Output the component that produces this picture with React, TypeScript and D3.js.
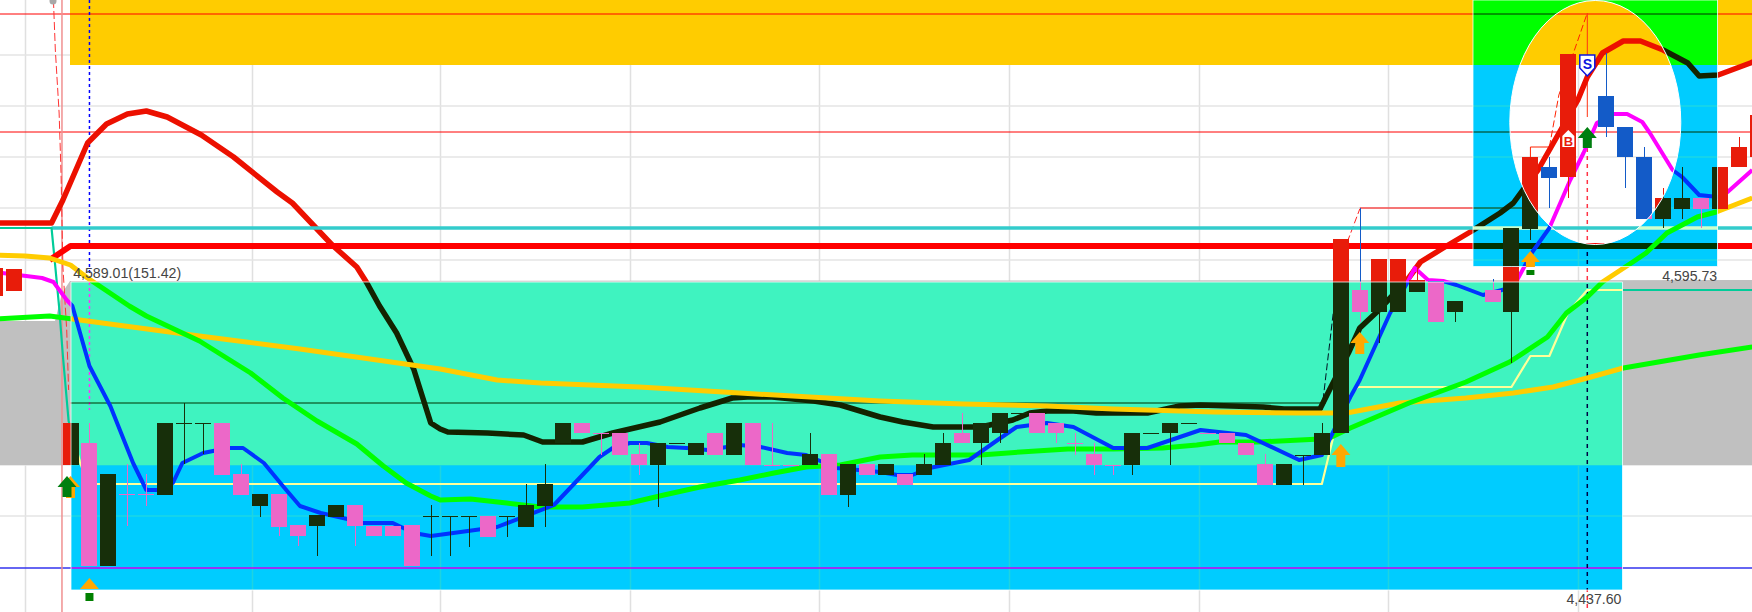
import React from "react";
import * as d3 from "d3";

// Prices (open, high, low, close), starting at bar -4. null = no candle drawn.
const FIRST_BAR = -4;
const candleRows: (number[] | null)[] = [
  [4573.6, 4587.6, 4573.6, 4587.6], [4576.1, 4587.1, 4576.1, 4587.1], null, null,
  [4489.1, 4510.1, 4489.1, 4510.1], [4500.1, 4510.1, 4438.6, 4438.6], [4438.6, 4484.6, 4438.6, 4484.6],
  [4474.6, 4489.6, 4458.6, 4474.5], [4474.6, 4484.6, 4468.6, 4474.5], [4474.1, 4510.1, 4474.1, 4510.1],
  [4510.0, 4520.1, 4489.6, 4510.1], [4510.0, 4510.1, 4494.6, 4510.1], [4510.1, 4510.1, 4484.1, 4484.1],
  [4484.6, 4489.6, 4474.1, 4474.1], [4468.6, 4474.6, 4463.1, 4474.6], [4474.6, 4474.6, 4453.6, 4458.1],
  [4459.1, 4459.1, 4448.6, 4453.6], [4458.6, 4464.1, 4443.6, 4464.1], [4463.1, 4469.1, 4463.1, 4469.1],
  [4469.1, 4469.1, 4448.6, 4458.6], [4458.6, 4458.6, 4453.6, 4453.6], [4458.6, 4458.6, 4453.6, 4453.6],
  [4459.1, 4459.1, 4438.6, 4438.6], [4463.5, 4469.1, 4443.6, 4463.6], [4463.5, 4463.6, 4443.6, 4463.6],
  [4463.5, 4463.6, 4448.1, 4463.6], [4463.6, 4463.6, 4453.1, 4453.1], [4463.5, 4463.6, 4453.1, 4463.6],
  [4458.1, 4479.6, 4458.1, 4469.1], [4468.6, 4489.6, 4458.1, 4479.6], [4500.1, 4510.1, 4500.1, 4510.1],
  [4510.1, 4510.1, 4505.1, 4505.1], [4505.1, 4505.1, 4494.1, 4505.0], [4505.1, 4505.1, 4494.1, 4494.1],
  [4494.6, 4500.1, 4484.1, 4489.1], [4489.1, 4500.1, 4468.1, 4500.1], [4500.0, 4500.1, 4500.0, 4500.1],
  [4494.1, 4500.1, 4494.1, 4500.1], [4505.1, 4505.1, 4494.1, 4494.1], [4494.1, 4510.1, 4494.1, 4510.1],
  [4510.1, 4510.1, 4489.1, 4489.1], [4489.1, 4510.1, 4489.0, 4489.0], [4489.1, 4489.1, 4489.0, 4489.0],
  [4489.1, 4505.1, 4489.1, 4494.6], [4494.6, 4494.6, 4474.1, 4474.1], [4474.1, 4489.6, 4468.1, 4489.6],
  [4489.6, 4489.6, 4484.1, 4484.1], [4484.1, 4489.6, 4484.1, 4489.6], [4484.6, 4484.6, 4479.1, 4479.1],
  [4484.1, 4494.6, 4484.1, 4489.6], [4489.1, 4505.1, 4489.1, 4500.1], [4505.1, 4515.1, 4500.1, 4500.1],
  [4500.1, 4510.1, 4489.1, 4510.1], [4505.1, 4515.1, 4500.1, 4515.1], [4515.0, 4515.1, 4515.0, 4515.1],
  [4515.1, 4515.1, 4505.1, 4505.1], [4510.1, 4510.1, 4500.1, 4505.1], [4500.1, 4505.1, 4494.1, 4500.0],
  [4494.6, 4500.1, 4484.1, 4489.1], [4489.1, 4489.1, 4484.1, 4489.0], [4489.1, 4505.1, 4484.1, 4505.1],
  [4505.0, 4505.1, 4505.0, 4505.1], [4505.1, 4510.1, 4489.1, 4510.1], [4510.0, 4510.1, 4510.0, 4510.1],
  [4505.1, 4505.1, 4505.0, 4505.0], [4505.1, 4505.1, 4500.1, 4500.1], [4500.1, 4500.1, 4494.1, 4494.1],
  [4489.6, 4494.6, 4479.1, 4479.1], [4479.1, 4489.6, 4479.1, 4489.6], [4494.0, 4494.1, 4479.1, 4494.1],
  [4494.1, 4510.1, 4494.1, 4505.1], [4505.1, 4602.1, 4505.1, 4602.1], [4576.6, 4617.6, 4560.6, 4565.6],
  [4565.6, 4592.1, 4550.1, 4592.1], [4565.6, 4592.1, 4565.6, 4592.1], [4575.6, 4587.6, 4575.6, 4581.6],
  [4581.1, 4581.1, 4560.6, 4560.6], [4565.6, 4571.1, 4560.6, 4571.1], null,
  [4576.6, 4582.1, 4570.6, 4570.6], [4565.6, 4607.6, 4540.1, 4607.6], [4607.1, 4643.1, 4601.6, 4643.1],
  [4638.1, 4643.1, 4617.6, 4632.6], [4633.1, 4694.6, 4622.6, 4694.6], null,
  [4673.6, 4695.1, 4653.1, 4658.1], [4658.1, 4658.1, 4627.6, 4643.1], [4643.1, 4648.1, 4612.1, 4612.1],
  [4612.1, 4627.6, 4607.6, 4622.6], [4617.1, 4638.1, 4612.1, 4622.6], [4622.6, 4622.6, 4607.6, 4617.1],
  [4617.1, 4638.1, 4617.1, 4638.1], [4638.1, 4653.1, 4638.1, 4648.1], [4643.1, 4664.1, 4643.1, 4664.1],
];

// Moving averages: [bar, price]
const slowAverage = [
  [-4, 4610.1], [-1, 4610.1], [-0.4, 4621.6], [0.9, 4650.1], [1.9, 4659.6], [3, 4664.6], [4, 4666.1], [5.1, 4663.1],
  [6.9, 4654.1], [8.6, 4643.1], [10.9, 4625.6], [11.7, 4620.1], [13.8, 4599.1], [15.1, 4588.1], [15.6, 4580.6],
  [16.3, 4568.6], [17.2, 4555.1], [18.1, 4537.1], [19, 4510.1], [19.5, 4507.1], [19.9, 4505.6], [22, 4505.1],
  [23.9, 4504.1], [24.9, 4500.6], [27, 4500.6], [28.6, 4505.1], [31.1, 4510.6], [33.2, 4517.6], [34.9, 4522.6],
  [35.7, 4523.1], [37, 4523.1], [39.2, 4521.1], [40.6, 4519.1], [42.7, 4513.1], [43.9, 4510.6], [45.5, 4508.1],
  [48, 4508.1], [49.7, 4511.6], [50.6, 4515.1], [51.5, 4516.1], [52.9, 4516.1], [54.1, 4515.1], [56.8, 4515.1],
  [58.5, 4518.6], [59.6, 4519.1], [62.9, 4518.1], [64, 4517.1], [65.9, 4517.1], [66.4, 4526.6], [67.4, 4545.1],
  [68, 4557.6], [68.9, 4565.6], [70.5, 4581.6], [71.2, 4590.6], [72.4, 4597.6], [74, 4606.6], [75.4, 4615.1],
  [76.1, 4620.1], [76.6, 4626.6], [77.4, 4636.6], [79.5, 4671.6], [80, 4683.1], [80.8, 4695.1], [81.9, 4701.1],
  [82.8, 4701.1], [84, 4696.6], [85.3, 4690.1], [85.9, 4683.6], [86.9, 4684.1], [88.6, 4690.1], [89.6, 4694.1],
];
const midAverage = [
  [-4, 4594.1], [-2.4, 4593.6], [-1.1, 4592.6], [0, 4589.1], [0.9, 4582.6], [3.1, 4568.6], [4, 4563.6], [6.8, 4551.1],
  [9.5, 4535.1], [11.2, 4522.6], [13, 4511.1], [15.1, 4499.6], [16.5, 4488.6], [17.7, 4480.1], [19, 4473.6],
  [19.5, 4471.6], [21.1, 4472.1], [23, 4470.1], [24.8, 4468.1], [27, 4468.1], [29.5, 4470.1], [31.3, 4474.1],
  [33.2, 4478.1], [35.3, 4481.6], [37.1, 4485.1], [38.8, 4488.1], [40.6, 4489.1], [42.7, 4493.1], [44.4, 4494.1],
  [48, 4494.1], [50.1, 4495.6], [52.6, 4497.1], [55, 4497.1], [57.6, 4497.6], [59.4, 4499.1], [60.6, 4500.6],
  [62.6, 4500.6], [63.8, 4501.1], [65.9, 4502.1], [66.4, 4502.6], [67.5, 4507.6], [70.6, 4520.1], [73.6, 4530.6],
  [75.9, 4540.6], [77.9, 4553.1], [78.9, 4565.1], [80, 4573.1], [80.8, 4580.6], [82.4, 4590.6], [83.1, 4595.1],
  [84.2, 4605.1], [85.8, 4613.1], [86.8, 4615.6], [88.7, 4622.6],
];
const longAverage = [
  [-4, 4562.1], [-1.1, 4563.6], [0.1, 4562.1], [6.8, 4553.6], [12.1, 4547.1], [19.5, 4537.1], [22.5, 4531.6],
  [24.8, 4530.1], [30, 4528.1], [35.3, 4525.1], [42.7, 4521.1], [47.1, 4519.6], [51.5, 4518.6], [55, 4517.1],
  [60.3, 4515.6], [64.8, 4515.1], [67.3, 4515.1], [70.1, 4520.1], [73.6, 4522.6], [76.1, 4525.1], [78.2, 4528.1],
  [80, 4532.6], [81.9, 4537.6], [85.9, 4544.1], [88.7, 4548.1],
];
const fastAverage = [
  [-4, 4585.6], [-3.6, 4585.1], [-1.5, 4582.6], [-0.9, 4580.6], [-0.2, 4571.6], [0.1, 4568.6], [1, 4538.6],
  [2.1, 4518.6], [3.3, 4490.1], [4, 4476.6], [4.6, 4476.6], [5.4, 4480.1], [5.9, 4490.1], [7, 4495.1], [8.3, 4497.6],
  [9.1, 4497.6], [10.2, 4490.1], [11.2, 4478.6], [12.1, 4468.6], [13.2, 4465.1], [14.6, 4462.1], [15.4, 4460.1],
  [17, 4460.1], [18.1, 4455.1], [19, 4453.6], [19.8, 4454.6], [22.5, 4458.1], [25.5, 4469.1], [27.9, 4493.1],
  [28.6, 4497.6], [29.5, 4500.1], [30.4, 4500.1], [31.5, 4498.1], [32.5, 4497.6], [33.6, 4496.6], [35.3, 4499.1],
  [36.4, 4498.1], [37.8, 4495.1], [38.8, 4494.1], [40.4, 4487.6], [42.7, 4485.6], [43.6, 4484.1], [44.4, 4484.1],
  [45.3, 4487.6], [47.4, 4491.6], [48.9, 4501.6], [49.9, 4508.1], [51.5, 4510.1], [52.9, 4508.1], [55, 4497.6],
  [56.8, 4497.6], [59.6, 4506.6], [62, 4504.1], [64.8, 4491.6], [66, 4494.1], [67.5, 4523.1], [68, 4531.6],
  [69.6, 4565.1], [70.5, 4580.1], [70.9, 4587.6], [71.6, 4581.6], [72.4, 4581.1], [73.1, 4579.1], [74.5, 4574.1],
  [76.1, 4578.1], [76.5, 4585.1], [77.1, 4595.6], [78, 4607.6], [79.1, 4631.6], [79.8, 4645.1], [80.5, 4660.1],
  [81.4, 4664.6], [82.1, 4664.6], [82.9, 4660.6], [83.3, 4655.1], [84.5, 4636.6], [85, 4633.1], [85.9, 4624.1],
  [86.9, 4623.1], [87.4, 4625.6], [88.7, 4636.6],
];
const baseLine = [
  [-4, 4607.6], [-1, 4607.6], [-0.8, 4588.1], [-0.6, 4568.1], [-0.4, 4543.6], [-0.1, 4511.1], [0.5, 4490.6],
  [0.9, 4479.6], [66, 4479.6], [66.6, 4503.1], [67.5, 4524.1], [67.9, 4528.1], [76, 4528.1], [77, 4543.6],
  [78, 4543.6], [79, 4565.6], [80, 4576.6], [88.7, 4576.6],
];
const supportRed = [[-1.1, 4591.6], [0, 4598.6], [88.7, 4598.6]];
const supportTeal = [[-1, 4607.6], [88.7, 4607.6]];
const rangeHigh = [[0, 4520.1], [66.2, 4520.1]];
const highLevels = [4714.6, 4655.6];
const LOW_LEVEL = 4437.6;
const dashedFirst = [[-0.9, 4721.6], [-0.8, 4696.6], [-0.6, 4665.1], [-0.5, 4635.1], [-0.4, 4588.1], [-0.2, 4556.6], [-0.1, 4526.6]];
const dashedSecond = [[66, 4516.6], [66.6, 4565.1], [67.4, 4602.1], [68, 4617.1]];
const stepSecond = [[68, 4617.6], [76.6, 4617.6]];
const stepThird = [[77, 4643.1], [77, 4648.1], [78, 4648.1]];
const dashedThird = [[78, 4648.1], [78.5, 4674.1], [80, 4715.1]];
const signalWick = [[80, 4715.1], [80, 4663.1]];
const signalDash = [[80, 4647.6], [80, 4415.6]];
const cursorDots = [[1, 4721.6], [1, 4516.6]];
const cursorLine = [[-0.45, 4721.6], [-0.45, 4415.6]];

const gridBars = [-2.4, 9.57, 19.5, 29.5, 39.5, 49.5, 59.5, 69.5, 79.5];
const gridPrices = [4694.1, 4668.6, 4643.1, 4617.6, 4591.6, 4489.1, 4463.6];
const orangeArrows = [[0, 4483.6, 22], [1, 4432.6, 11], [67, 4499.6, 23], [68, 4555.6, 22], [77, 4596.1, 16]];
const squareMarks = [[1, 4425.1], [77, 4586.6]];
const labels = [
  { text: "4,589.01(151.42)", bar: 0.14, price: 4582.6, width: 108, anchor: "start" },
  { text: "4,595.73", bar: 83.95, price: 4581.1, width: 55, anchor: "start" },
  { text: "4,437.60", bar: 78.9, price: 4419.6, width: 55, anchor: "start" },
];

const W = 1752, H = 612;
const xScale = d3.scaleLinear().domain([0, 100]).range([70.5, 1966.5]);
const yScale = d3.scaleLinear().domain([4721.6, 4415.6]).range([0, 612]);
const linePath = d3.line<number[]>().x((d) => xScale(d[0])).y((d) => yScale(d[1]));

const KEY = 0xff3300;
const xorColor = (hex: string) => {
  const v = parseInt(hex.slice(1), 16) ^ KEY;
  return "#" + v.toString(16).padStart(6, "0");
};
const same = (c: string) => c;

const rect = (x0: number, y0: number, x1: number, y1: number) => `M${x0},${y0}H${x1}V${y1}H${x0}Z`;
const BOX_LOW = [71, 282, 1622.5, 590];
const BOX_HIGH = [1473, 0, 1717.5, 266.5];
const OVAL = { cx: 1595.3, cy: 122.5, rx: 85.5, ry: 122 };
const ovalPath = `M${OVAL.cx - OVAL.rx},${OVAL.cy}A${OVAL.rx},${OVAL.ry} 0 1 0 ${OVAL.cx + OVAL.rx},${OVAL.cy}A${OVAL.rx},${OVAL.ry} 0 1 0 ${OVAL.cx - OVAL.rx},${OVAL.cy}Z`;
const inverted = rect(BOX_LOW[0], BOX_LOW[1], BOX_LOW[2], BOX_LOW[3]) + rect(BOX_HIGH[0], BOX_HIGH[1], BOX_HIGH[2], BOX_HIGH[3]) + ovalPath;

const RED = "#e81c0a", BLUE = "#135bc8";

function Scene({ c }: { c: (s: string) => string }) {
  const stroke = (pts: number[][], color: string, width: number, dash?: string) => (
    <path d={linePath(pts as any) || ""} fill="none" stroke={c(color)} strokeWidth={width} strokeDasharray={dash} strokeLinejoin="round" />
  );
  return (
    <g>
      <rect x={0} y={0} width={W} height={H} fill={c("#ffffff")} />
      {gridBars.map((b) => (
        <line key={b} x1={Math.round(xScale(b)) + 0.5} x2={Math.round(xScale(b)) + 0.5} y1={0} y2={H} stroke={c("#e0e0e0")} strokeWidth={1.5} />
      ))}
      {gridPrices.map((p) => (
        <line key={p} x1={0} x2={W} y1={yScale(p)} y2={yScale(p)} stroke={c("#e4e4e4")} strokeWidth={1.5} />
      ))}
      <rect x={70} y={0} width={W - 70} height={65} fill={c("#ffcc00")} />
      <polygon points={`0,321 55,321 62,293 70,281 ${W},280 ${W},465 0,465`} fill={c("#c0c0c0")} />
      {highLevels.map((p) => (
        <line key={p} x1={0} x2={W} y1={yScale(p)} y2={yScale(p)} stroke={c("#ff0000")} strokeWidth={1} />
      ))}
      <line x1={0} x2={W} y1={yScale(LOW_LEVEL)} y2={yScale(LOW_LEVEL)} stroke={c("#3333ee")} strokeWidth={1.6} />
      {stroke(cursorLine, "#f09090", 1.5)}
      {stroke(dashedFirst, "#ff3333", 1, "8 3")}
      {stroke(cursorDots, "#0000ff", 1.5, "3 3")}
      {stroke(signalDash, "#ff3344", 1.5, "4 4")}
      {stroke(signalWick, "#ff3311", 1)}
      {stroke(rangeHigh, "#ff0000", 1)}
      {stroke(dashedSecond, "#ff2222", 1, "7 3")}
      {stroke(stepSecond, "#ff0000", 1)}
      {stroke(stepThird, "#ff2200", 1)}
      {stroke(dashedThird, "#ff2200", 1, "7 3")}
      {stroke(slowAverage, "#ec1000", 5.5)}
      {stroke(supportTeal, "#33cccc", 3.5)}
      {stroke(baseLine, "#00cc99", 2.2)}
      {stroke(supportRed, "#ff0000", 6)}
      {stroke(longAverage, "#00ff00", 5)}
      {stroke(midAverage, "#ffcc00", 5)}
      {stroke(fastAverage, "#ff00ff", 4)}
      {candleRows.map((row, i) => {
        if (!row) return null;
        const [open, high, low, close] = row;
        const bar = i + FIRST_BAR;
        const x = xScale(bar);
        const color = c(close >= open ? RED : BLUE);
        const top = yScale(Math.max(open, close));
        const bottom = yScale(Math.min(open, close));
        const wx = Math.round(x) + 0.5;
        return (
          <g key={bar} shapeRendering="crispEdges">
            <line x1={wx} x2={wx} y1={yScale(high)} y2={yScale(low)} stroke={color} strokeWidth={1} />
            <rect x={x - 8} y={top} width={16} height={Math.max(1, bottom - top)} fill={color} />
          </g>
        );
      })}
    </g>
  );
}

function arrowPath(cx: number, top: number, h: number) {
  const head = Math.min(11, h);
  if (h <= head) return `M${cx},${top}L${cx + 9.5},${top + head}H${cx - 9.5}Z`;
  return `M${cx},${top}L${cx + 9.5},${top + head}H${cx + 4.5}V${top + h}H${cx - 4.5}V${top + head}H${cx - 9.5}Z`;
}

export default function App() {
  const sx = xScale(80);
  const sy = yScale(4690.1);
  const by = yScale(4652.1);
  const bx = xScale(79);
  const gy = yScale(4658.1);
  return (
    <svg width={W} height={H} viewBox={`0 0 ${W} ${H}`} style={{ position: "absolute", left: 0, top: 0, display: "block" }}>
      <defs>
        <clipPath id="normal"><path d={rect(0, 0, W, H) + inverted} clipRule="evenodd" /></clipPath>
        <clipPath id="xored"><path d={inverted} clipRule="evenodd" /></clipPath>
      </defs>
      <g clipPath="url(#normal)"><Scene c={same} /></g>
      <g clipPath="url(#xored)"><Scene c={xorColor} /></g>
      <path d={rect(BOX_LOW[0], BOX_LOW[1], BOX_LOW[2], BOX_LOW[3])} fill="none" stroke="#ffffff" strokeOpacity={0.75} strokeWidth={1} />
      <path d={rect(BOX_HIGH[0], BOX_HIGH[1], BOX_HIGH[2], BOX_HIGH[3])} fill="none" stroke="#ffffff" strokeOpacity={0.75} strokeWidth={1} />
      <path d={ovalPath} fill="none" stroke="#ffffff" strokeWidth={1} />
      <circle cx={53} cy={1} r={3.5} fill="#a8a8a8" />
      {orangeArrows.map(([bar, price, h]) => (
        <path key={bar} d={arrowPath(xScale(bar), yScale(price), h)} fill="#ffa800" />
      ))}
      <path d={arrowPath(xScale(0) - 3.5, yScale(4483.6), 21)} fill="#007f10" />
      {squareMarks.map(([bar, price]) => (
        <rect key={bar} x={xScale(bar) - 4} y={yScale(price)} width={8} height={bar === 1 ? 8 : 5} fill="#008000" />
      ))}
      <path d={arrowPath(sx, gy, 21)} fill="#007f10" />
      <path d={`M${sx - 7.5},${sy - 8}H${sx + 7.5}V${sy + 5}L${sx},${sy + 13}L${sx - 7.5},${sy + 5}Z`} fill="#ffffff" stroke="#0a14e0" strokeWidth={1.5} />
      <text x={sx} y={sy + 6} textAnchor="middle" fontFamily="Liberation Sans, sans-serif" fontSize={14} fontWeight={700} fill="#0a14e0">S</text>
      <path d={`M${bx - 6},${by - 3}L${bx},${by - 9}L${bx + 6},${by - 3}V${by + 8}H${bx - 6}Z`} fill="#ffffff" />
      <text x={bx} y={by + 7} textAnchor="middle" fontFamily="Liberation Sans, sans-serif" fontSize={13} fontWeight={700} fill="#e81c0a">B</text>
      {labels.map((l) => (
        <text key={l.text} x={xScale(l.bar)} y={yScale(l.price)} textLength={l.width} lengthAdjust="spacingAndGlyphs" fontFamily="Liberation Sans, sans-serif" fontSize={14} fill="#444444">{l.text}</text>
      ))}
    </svg>
  );
}
